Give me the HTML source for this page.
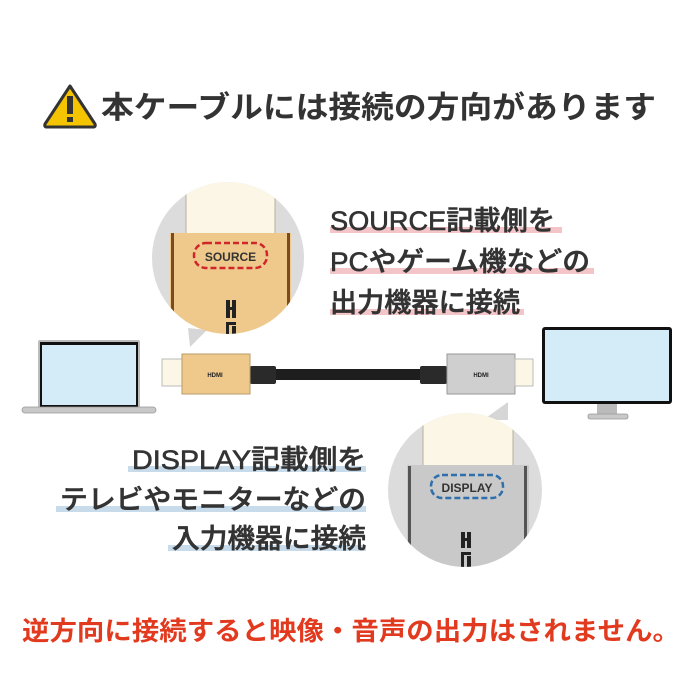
<!DOCTYPE html>
<html><head><meta charset="utf-8"><style>
html,body{margin:0;padding:0;background:#fff;width:700px;height:700px;overflow:hidden}
svg{display:block}
text{font-family:"Liberation Sans","Noto Sans CJK JP",sans-serif}
.jp{font-family:"Noto Sans CJK JP","Liberation Sans",sans-serif}
</style></head><body>
<svg width="700" height="700" viewBox="0 0 700 700" xmlns="http://www.w3.org/2000/svg">
<defs>
<clipPath id="c1"><circle cx="228" cy="258" r="76"/></clipPath>
<clipPath id="c2"><circle cx="465" cy="490" r="77"/></clipPath>
</defs>
<!-- title -->
<path d="M70 86 L95 124 Q96 127 93 127 L47 127 Q44 127 45 124 Z" fill="#f5c400" stroke="#333" stroke-width="3" stroke-linejoin="round"/>
<rect x="67" y="96" width="6" height="18" fill="#333"/>
<rect x="67" y="117" width="6" height="5" fill="#333"/>
<text x="101" y="118" font-size="30.5" font-weight="bold" fill="#333" textLength="555" lengthAdjust="spacingAndGlyphs">本ケーブルには接続の方向があります</text>

<!-- left circle -->
<path d="M188 328 L207 330 L190 347 Z" fill="#d6d6d6"/>
<circle cx="228" cy="258" r="76" fill="#dcdcdc"/>
<g clip-path="url(#c1)">
<rect x="186" y="170" width="89" height="64" fill="#fbf6e6" stroke="#b8b0a0" stroke-width="1"/>
<rect x="170" y="233" width="121" height="120" fill="#efc98c"/>
<rect x="171" y="233" width="3" height="120" fill="#7a4a20"/>
<rect x="287" y="233" width="3" height="120" fill="#7a4a20"/>
<g fill="#222"><rect x="226" y="300" width="4" height="18"/><rect x="232" y="300" width="4" height="18"/><rect x="226" y="307" width="10" height="3"/><rect x="226" y="322" width="10" height="3"/><rect x="226" y="322" width="3" height="16"/><rect x="232" y="326" width="4" height="12"/></g>
</g>
<rect x="194" y="243" width="73" height="25" rx="12" fill="none" stroke="#d0262b" stroke-width="2.5" stroke-dasharray="6 3"/>
<text x="230.5" y="261" font-size="12" font-weight="bold" fill="#333" text-anchor="middle">SOURCE</text>

<!-- right circle -->
<path d="M483 420 L508 402 L508 420 Z" fill="#d6d6d6"/>
<circle cx="465" cy="490" r="77" fill="#dcdcdc"/>
<g clip-path="url(#c2)">
<rect x="423" y="410" width="90" height="56" fill="#fbf6e6" stroke="#b8b0a0" stroke-width="1"/>
<rect x="407" y="465" width="122" height="110" fill="#c9c9c9"/>
<rect x="408" y="466" width="3" height="110" fill="#555"/>
<rect x="524" y="466" width="3" height="110" fill="#555"/>
<g fill="#222"><rect x="461" y="532" width="4" height="16"/><rect x="467" y="532" width="4" height="16"/><rect x="461" y="538" width="10" height="3"/><rect x="461" y="552" width="10" height="3"/><rect x="461" y="552" width="3" height="16"/><rect x="467" y="556" width="4" height="12"/></g>
</g>
<rect x="431" y="475" width="72" height="23" rx="11" fill="none" stroke="#2f6fab" stroke-width="2.5" stroke-dasharray="6 3"/>
<text x="467" y="492" font-size="12" font-weight="bold" fill="#333" text-anchor="middle">DISPLAY</text>

<!-- highlights & texts -->
<g fill="#f3c5c8">
<rect x="330" y="227" width="232" height="6"/>
<rect x="330" y="268" width="264" height="6"/>
<rect x="330" y="309" width="194" height="6"/>
</g>
<g font-size="27" fill="#333" stroke="#333" stroke-width="0.6" font-weight="500" class="jp">
<text x="330" y="230" textLength="225" lengthAdjust="spacingAndGlyphs">SOURCE記載側を</text>
<text x="330" y="271" textLength="260" lengthAdjust="spacingAndGlyphs">PCやゲーム機などの</text>
<text x="330" y="312" textLength="190" lengthAdjust="spacingAndGlyphs">出力機器に接続</text>
</g>
<g fill="#c8dbea">
<rect x="128" y="466" width="238" height="6"/>
<rect x="56" y="506" width="310" height="6"/>
<rect x="168" y="545" width="198" height="6"/>
</g>
<g font-size="27" fill="#333" stroke="#333" stroke-width="0.6" font-weight="500" class="jp" text-anchor="end">
<text x="366" y="469" textLength="234" lengthAdjust="spacingAndGlyphs">DISPLAY記載側を</text>
<text x="366" y="509" textLength="306" lengthAdjust="spacingAndGlyphs">テレビやモニターなどの</text>
<text x="366" y="548" textLength="194" lengthAdjust="spacingAndGlyphs">入力機器に接続</text>
</g>

<!-- laptop -->
<rect x="38" y="340" width="102" height="68" rx="2" fill="#bbb"/>
<rect x="40" y="342" width="98" height="65" fill="#111"/>
<rect x="42" y="345" width="94" height="60" fill="#d4ecf7"/>
<rect x="22" y="407" width="134" height="6" rx="3" fill="#c8c8c8" stroke="#999" stroke-width="0.8"/>

<!-- monitor -->
<rect x="542" y="327" width="130" height="77" rx="3" fill="#111"/>
<rect x="545" y="330" width="124" height="71" fill="#d4ecf7"/>
<rect x="597" y="404" width="20" height="11" fill="#bbb"/>
<rect x="588" y="414" width="40" height="5" rx="2" fill="#c8c8c8" stroke="#999" stroke-width="0.8"/>

<!-- cable -->
<rect x="270" y="369" width="155" height="11" fill="#1e1e1e"/>
<rect x="250" y="366" width="26" height="18" rx="2" fill="#2a2a2a"/>
<rect x="420" y="366" width="27" height="18" rx="2" fill="#2a2a2a"/>
<rect x="162" y="359" width="21" height="27" fill="#fbf6e6" stroke="#bbb" stroke-width="1"/>
<rect x="182" y="354" width="68" height="40" fill="#efc98c" stroke="#b89a6a" stroke-width="1"/>
<text x="215" y="377" font-size="6" font-weight="bold" fill="#222" text-anchor="middle">HDMI</text>
<rect x="447" y="354" width="68" height="40" fill="#cfcfcf" stroke="#999" stroke-width="1"/>
<text x="481" y="377" font-size="6" font-weight="bold" fill="#222" text-anchor="middle">HDMI</text>
<rect x="515" y="359" width="18" height="27" fill="#fbf6e6" stroke="#bbb" stroke-width="1"/>

<!-- bottom -->
<text x="22" y="640" font-size="26" font-weight="bold" fill="#e23a1f" textLength="658" lengthAdjust="spacingAndGlyphs">逆方向に接続すると映像・音声の出力はされません。</text>
</svg>
</body></html>
